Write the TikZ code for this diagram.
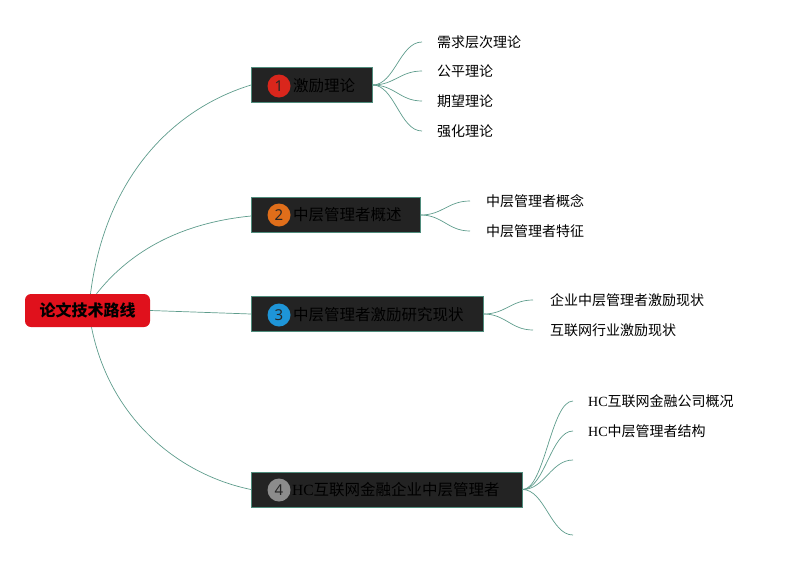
\documentclass[tikz,border=0pt]{standalone}
\usepackage{fontspec}
\setmainfont{Liberation Serif}
\newfontfamily\cjk{Noto Sans CJK SC}
\newfontfamily\numfont{Noto Sans}
\definecolor{linkc}{HTML}{5E9C8C}
\definecolor{rootred}{HTML}{E0111C}
\definecolor{boxfill}{HTML}{232323}
\definecolor{boxedge}{HTML}{4F8C7C}
\definecolor{c1}{HTML}{D9261C}
\definecolor{c2}{HTML}{E06E1A}
\definecolor{c3}{HTML}{1E95D8}
\definecolor{c4}{HTML}{8C8C8C}
\tikzset{
  link/.style={draw=linkc, line width=0.7pt},
  rootbox/.style={fill=rootred, rounded corners=6pt, minimum width=125pt, minimum height=33pt, inner sep=0pt, font=\cjk\fontsize{16}{16}\selectfont\bfseries, text=black},
  topicbox/.style={fill=boxfill, draw=boxedge, line width=0.6pt, anchor=west, minimum height=35pt, inner sep=0pt},
  numdot/.style={circle, minimum size=23pt, inner sep=0pt, font=\numfont\fontsize{15}{15}\selectfont, text=black!85},
  topictext/.style={anchor=west, inner sep=0pt, text=black, font=\cjk\fontsize{15.5}{15.5}\selectfont},
  childtext/.style={anchor=west, inner sep=0pt, text=black, font=\cjk\fontsize{14}{14}\selectfont},
}
\begin{document}
\begin{tikzpicture}[x=1pt, y=-1pt]
\useasboundingbox (0,0) rectangle (794,560);
% root
\node[rootbox] (root) at (87.5,310.5) {论文技术路线};
% topic boxes
\node[topicbox, minimum width=121pt] (b1) at (251,85) {};
\node[topicbox, minimum width=169pt] (b2) at (251,215) {};
\node[topicbox, minimum width=232pt] (b3) at (251,314) {};
\node[topicbox, minimum width=271pt] (b4) at (251,489.5) {};
\node[numdot, fill=c1] (n1) at (279,86) {1};
\node[numdot, fill=c2] (n2) at (279,215) {2};
\node[numdot, fill=c3] (n3) at (279,315) {3};
\node[numdot, fill=c4] (n4) at (279,490) {4};
\node[topictext] (t1) at (293,86) {激励理论};
\node[topictext] (t2) at (293,215) {中层管理者概述};
\node[topictext] (t3) at (293,315) {中层管理者激励研究现状};
\node[topictext] (t4) at (292,490) {\rmfamily HC\cjk 互联网金融企业中层管理者};
% root connectors
\draw[link] ([xshift=3pt]root.north) .. controls (105,180) and (170,110) .. (b1.west);
\draw[link] ([xshift=9pt]root.north) .. controls (135,245) and (190,222) .. ([yshift=-1pt]b2.west);
\draw[link] (root.east) -- (b3.west);
\draw[link] ([xshift=4pt]root.south) .. controls (110,420) and (180,475) .. (b4.west);
% children of 1
\node[childtext] (s11) at (437,42) {需求层次理论};
\node[childtext] (s12) at (437,71) {公平理论};
\node[childtext] (s13) at (437,101) {期望理论};
\node[childtext] (s14) at (437,131) {强化理论};
\foreach \s in {s11,s12,s13,s14}
  \draw[link] (b1.east) .. controls +(22,0) and +(-22,0) .. ([xshift=-15pt]\s.west);
% children of 2
\node[childtext] (s21) at (486,201) {中层管理者概念};
\node[childtext] (s22) at (486,231) {中层管理者特征};
\foreach \s in {s21,s22}
  \draw[link] (b2.east) .. controls +(22,0) and +(-22,0) .. ([xshift=-16pt]\s.west);
% children of 3
\node[childtext] (s31) at (550,300) {企业中层管理者激励现状};
\node[childtext] (s32) at (550,330) {互联网行业激励现状};
\foreach \s in {s31,s32}
  \draw[link] (b3.east) .. controls +(22,0) and +(-22,0) .. ([xshift=-17pt]\s.west);
% children of 4
\node[childtext] (s41) at (588,401) {\rmfamily HC\cjk 互联网金融公司概况};
\node[childtext] (s42) at (588,431) {\rmfamily HC\cjk 中层管理者结构};
\coordinate (e43) at (573,460);
\coordinate (e44) at (573,535);
\draw[link] (b4.east) .. controls +(22,0) and +(-22,0) .. ([xshift=-15pt]s41.west);
\draw[link] (b4.east) .. controls +(22,0) and +(-22,0) .. ([xshift=-15pt]s42.west);
\draw[link] (b4.east) .. controls +(22,0) and +(-22,0) .. (e43);
\draw[link] (b4.east) .. controls +(22,0) and +(-22,0) .. (e44);
\end{tikzpicture}
\end{document}
